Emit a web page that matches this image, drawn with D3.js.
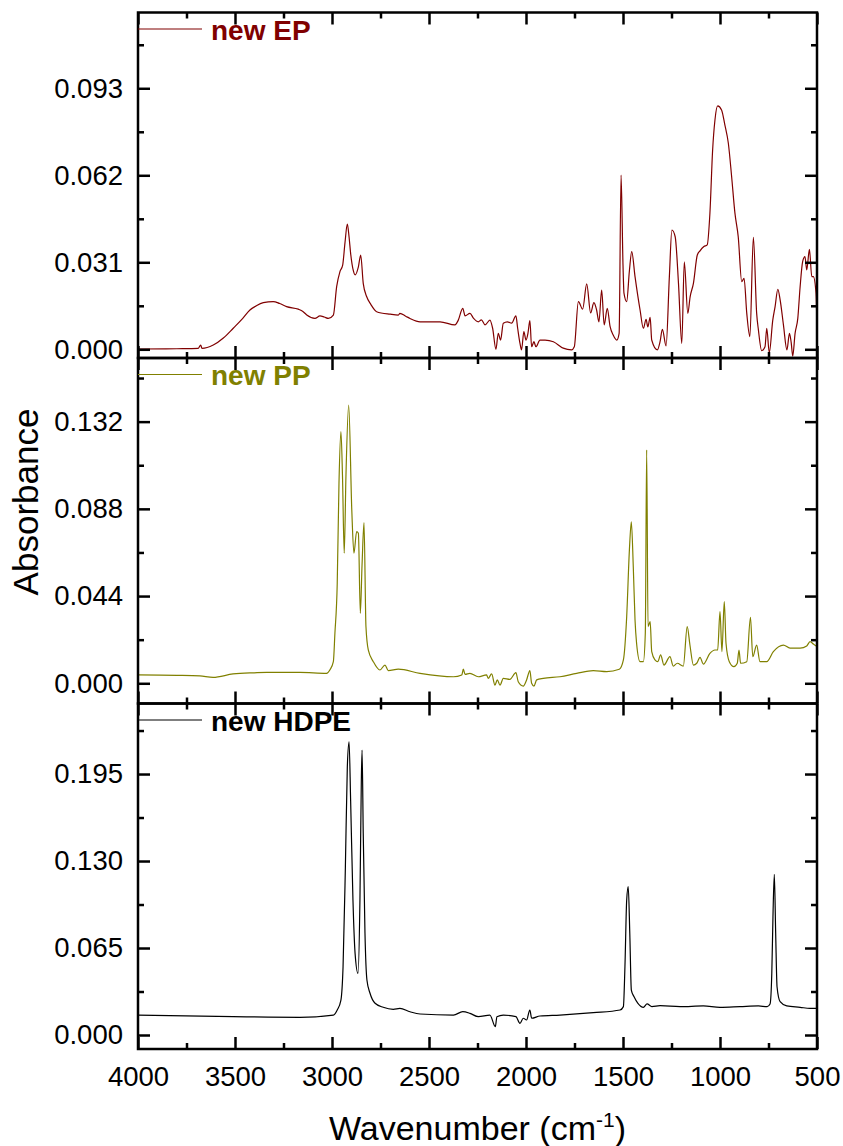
<!DOCTYPE html>
<html>
<head>
<meta charset="utf-8">
<script src="https://cdn.jsdelivr.net/npm/d3@7"></script>
<style>
  body { margin: 0; background: #fff; }
  text { font-family: "Liberation Sans", Arial, sans-serif; fill: #000; }
</style>
</head>
<body>
<div id="chart"></div>
<script>
// spectra: [wavenumber, absorbance]
var epPoints = [[4000,0.0001],[3800,0.0002],[3690,0.0003],[3677,0.0015],[3670,0.0003],[3612,0.0015],[3560,0.004],[3509,0.0075],[3460,0.011],[3423,0.014],[3390,0.0155],[3354,0.0166],[3303,0.017],[3270,0.0163],[3234,0.0152],[3174,0.0143],[3150,0.0135],[3130,0.0122],[3088,0.011],[3062,0.0119],[3040,0.0115],[3019,0.011],[2993,0.0122],[2976,0.0223],[2959,0.0277],[2945,0.030],[2933,0.038],[2921,0.0446],[2912,0.040],[2904,0.0342],[2890,0.028],[2881,0.0265],[2864,0.0294],[2852,0.0336],[2839,0.0235],[2821,0.0187],[2800,0.016],[2770,0.0134],[2700,0.0125],[2658,0.0122],[2650,0.0128],[2620,0.0118],[2598,0.011],[2546,0.0098],[2443,0.0098],[2366,0.0087],[2349,0.0104],[2326,0.0146],[2314,0.0119],[2289,0.0128],[2270,0.011],[2246,0.0098],[2230,0.0105],[2211,0.0087],[2186,0.0104],[2172,0.0075],[2155,0.000],[2143,0.0057],[2131,0.0033],[2117,0.0093],[2096,0.0098],[2074,0.0093],[2052,0.0119],[2043,0.0075],[2031,0.0021],[2023,-0.0002],[2011,0.0063],[2000,0.0033],[1990,0.0057],[1980,0.0102],[1971,0.0009],[1959,0.0027],[1949,0.0009],[1928,0.0033],[1902,0.0033],[1859,0.0027],[1808,0.0004],[1765,-0.0002],[1751,0.0009],[1730,0.017],[1708,0.0143],[1687,0.0233],[1667,0.013],[1650,0.0166],[1636,0.014],[1624,0.0098],[1610,0.0211],[1597,0.0087],[1581,0.0146],[1567,0.0083],[1550,0.005],[1532,0.0033],[1520,0.0057],[1510,0.0621],[1500,0.03],[1495,0.02],[1481,0.017],[1467,0.028],[1455,0.0348],[1438,0.0259],[1412,0.014],[1395,0.0075],[1381,0.0107],[1372,0.008],[1360,0.0114],[1352,0.0033],[1323,-0.0002],[1309,0.0027],[1297,0.0071],[1278,0.0012],[1261,0.0259],[1248,0.0425],[1231,0.0401],[1214,0.0235],[1197,0.0021],[1184,0.0312],[1166,0.0128],[1154,0.0187],[1137,0.0235],[1117,0.0336],[1103,0.0351],[1083,0.0366],[1066,0.0372],[1052,0.0485],[1038,0.071],[1026,0.0817],[1012,0.0867],[992,0.0853],[975,0.08],[957,0.0734],[940,0.0615],[923,0.0485],[906,0.0401],[888,0.0241],[876,0.0253],[862,0.0128],[846,0.0045],[828,0.0399],[811,0.0128],[802,0.0069],[785,-0.0005],[768,0.0009],[759,0.0075],[746,-0.0012],[728,0.0104],[716,0.0152],[702,0.0214],[690,0.0176],[673,0.0087],[655,-0.0002],[642,0.0057],[633,0.0024],[625,-0.0024],[613,0.0057],[599,0.011],[587,0.0223],[574,0.0312],[562,0.033],[553,0.0283],[539,0.0356],[527,0.0259],[519,0.0259],[505,0.02],[500,0.007]];

var ppPoints = [[4000,0.0042],[3800,0.004],[3681,0.0037],[3613,0.003],[3510,0.0047],[3400,0.0053],[3337,0.0055],[3165,0.0055],[3028,0.005],[3011,0.0067],[2993,0.0109],[2985,0.0252],[2973,0.0505],[2964,0.101],[2954,0.127],[2946,0.105],[2937,0.0656],[2928,0.105],[2914,0.1404],[2898,0.0874],[2887,0.0656],[2873,0.0765],[2864,0.0757],[2854,0.0353],[2845,0.06],[2835,0.081],[2825,0.0286],[2813,0.0168],[2787,0.0109],[2753,0.0067],[2727,0.0092],[2710,0.0064],[2658,0.0071],[2546,0.005],[2374,0.0033],[2331,0.0042],[2323,0.0071],[2314,0.0045],[2289,0.005],[2246,0.0033],[2203,0.0042],[2195,0.0025],[2177,0.0047],[2160,-0.0009],[2148,0.0017],[2134,-0.0009],[2117,0.0025],[2083,0.002],[2052,0.0054],[2040,0.0008],[2014,-0.0014],[1997,0.0017],[1980,0.0064],[1971,0],[1959,-0.0014],[1945,0.0017],[1911,0.0025],[1825,0.0033],[1739,0.005],[1653,0.0064],[1584,0.0059],[1519,0.0071],[1498,0.0118],[1481,0.0336],[1467,0.0673],[1457,0.0815],[1447,0.0588],[1438,0.0319],[1430,0.0202],[1412,0.0109],[1395,0.0109],[1385,0.0252],[1378,0.1177],[1371,0.0286],[1360,0.0311],[1352,0.016],[1335,0.0118],[1321,0.0109],[1306,0.0143],[1289,0.0092],[1258,0.0134],[1241,0.0087],[1220,0.0101],[1189,0.0087],[1169,0.0286],[1155,0.0193],[1137,0.0092],[1120,0.0101],[1103,0.0131],[1086,0.0097],[1052,0.0151],[1026,0.0168],[1012,0.0168],[1000,0.0361],[990,0.016],[978,0.0412],[969,0.0202],[952,0.0109],[928,0.0084],[911,0.0101],[902,0.0168],[894,0.0101],[862,0.0109],[843,0.0333],[831,0.0134],[811,0.0193],[794,0.0109],[759,0.0109],[725,0.016],[673,0.0193],[639,0.0177],[587,0.0177],[553,0.0188],[536,0.021],[519,0.0198],[500,0.0185]];

var hdpePoints = [[4000,0.0149],[3510,0.0137],[3165,0.0132],[2993,0.0149],[2973,0.0187],[2954,0.0261],[2943,0.051],[2931,0.1257],[2921,0.2004],[2912,0.219],[2904,0.1755],[2892,0.1008],[2881,0.061],[2866,0.0461],[2856,0.1008],[2849,0.188],[2845,0.2129],[2839,0.1507],[2830,0.076],[2820,0.0411],[2804,0.0312],[2778,0.0237],[2736,0.0207],[2684,0.0192],[2650,0.0199],[2598,0.0174],[2546,0.0157],[2374,0.0149],[2326,0.0174],[2289,0.0162],[2246,0.0137],[2186,0.0149],[2158,0.0062],[2150,0.0137],[2117,0.0149],[2052,0.0137],[2031,0.0087],[2014,0.0125],[1997,0.0112],[1980,0.0187],[1971,0.0125],[1928,0.0142],[1825,0.0149],[1653,0.0167],[1515,0.0187],[1498,0.0212],[1490,0.051],[1481,0.1008],[1473,0.1108],[1465,0.076],[1457,0.0336],[1443,0.0286],[1423,0.0237],[1395,0.0207],[1376,0.0232],[1351,0.0212],[1309,0.0219],[1206,0.0212],[1086,0.0217],[1000,0.0207],[897,0.0212],[802,0.0217],[757,0.0212],[742,0.0232],[733,0.0461],[727,0.0884],[720,0.12],[713,0.076],[706,0.0361],[690,0.0249],[656,0.0217],[587,0.0207],[536,0.0199],[500,0.0199]];

var xTicks = [4000, 3500, 3000, 2500, 2000, 1500, 1000, 500];
var epTicks = [0, 0.031, 0.062, 0.093];
var ppTicks = [0, 0.044, 0.088, 0.132];
var hdpeTicks = [0, 0.065, 0.130, 0.195];

var panels = [
  { name: "new EP", color: "#800000", points: epPoints, ticks: epTicks, domain: [-0.0031, 0.1200] },
  { name: "new PP", color: "#808000", points: ppPoints, ticks: ppTicks, domain: [-0.0102, 0.1641] },
  { name: "new HDPE", color: "#000000", points: hdpePoints, ticks: hdpeTicks, domain: [-0.01046, 0.2477] }
];

var svgWidth = 843, svgHeight = 1146;
var plotLeft = 138, plotRight = 817, plotTop = 12.5, panelH = 345.5;

var svg = d3.select("#chart").append("svg")
  .attr("width", svgWidth)
  .attr("height", svgHeight);

var x = d3.scaleLinear().domain([4000, 500]).range([plotLeft, plotRight]);

// minor x ticks halfway between majors
var xMinor = d3.range(3750, 500, -500);

panels.forEach(function(p, i) {
  var y0 = plotTop + i * panelH;
  var y1 = y0 + panelH;
  var y = d3.scaleLinear().domain(p.domain).range([y1, y0]);
  var step = p.ticks[1] - p.ticks[0];
  var yMinor = p.ticks.map(d => d + step / 2);

  svg.append("clipPath").attr("id", "clip" + i)
    .append("rect").attr("x", plotLeft).attr("y", y0).attr("width", plotRight - plotLeft).attr("height", panelH);

  var line = d3.line()
    .x(d => x(d[0]))
    .y(d => y(d[1]))
    .curve(d3.curveMonotoneX);
  svg.append("path")
    .datum(p.points)
    .attr("clip-path", "url(#clip" + i + ")")
    .attr("fill", "none")
    .attr("stroke", p.color)
    .attr("stroke-width", 1.2)
    .attr("stroke-linejoin", "round")
    .attr("d", line);

  // axes: major and minor ticks on all four sides, pointing inward
  function axisPair(axisFn, scale, majors, minors, transform, labels) {
    var gMin = svg.append("g").attr("transform", transform)
      .call(axisFn(scale).tickValues(minors).tickSize(-6).tickFormat(""));
    var gMaj = svg.append("g").attr("transform", transform)
      .call(axisFn(scale).tickValues(majors).tickSize(-12).tickPadding(15)
        .tickFormat(labels ? labels : ""));
    [gMin, gMaj].forEach(function(g) {
      g.select(".domain").remove();
      g.selectAll(".tick line").attr("stroke", "#000").attr("stroke-width", 2.5);
    });
    return gMaj;
  }

  var yl = axisPair(d3.axisLeft, y, p.ticks, yMinor, `translate(${plotLeft},0)`, d3.format(".3f"));
  yl.selectAll(".tick text")
    .style("font-size", "27.5px")
    .style("font-family", "'Liberation Sans', Arial, sans-serif")
    .attr("fill", "#000");
  axisPair(d3.axisRight, y, p.ticks, yMinor, `translate(${plotRight},0)`, null);
  axisPair(d3.axisTop, x, xTicks, xMinor, `translate(0,${y0})`, null);
  var xb = axisPair(d3.axisBottom, x, xTicks, xMinor, `translate(0,${y1})`,
    i === panels.length - 1 ? d3.format("d") : null);
  xb.selectAll(".tick text")
    .style("font-size", "27.5px")
    .style("font-family", "'Liberation Sans', Arial, sans-serif")
    .attr("fill", "#000")
    .attr("dy", "0.71em")
    .attr("y", 17);

  // frame
  svg.append("rect")
    .attr("x", plotLeft).attr("y", y0)
    .attr("width", plotRight - plotLeft).attr("height", panelH)
    .attr("fill", "none")
    .attr("stroke", "#000")
    .attr("stroke-width", 2.5);

  // legend
  svg.append("line")
    .attr("x1", plotLeft).attr("x2", 202)
    .attr("y1", y0 + 16.5).attr("y2", y0 + 16.5)
    .attr("stroke", p.color).attr("stroke-width", 1.2);
  svg.append("text")
    .attr("x", 211).attr("y", y0 + 27)
    .style("font-size", "28px")
    .style("font-weight", "bold")
    .style("fill", p.color)
    .text(p.name);
});

// axis titles
var xt = svg.append("text")
  .attr("x", (plotLeft + plotRight) / 2)
  .attr("y", 1140)
  .attr("text-anchor", "middle")
  .style("font-size", "34px");
xt.append("tspan").text("Wavenumber (cm");
xt.append("tspan").attr("dy", -13).style("font-size", "21px").text("-1");
xt.append("tspan").attr("dy", 13).text(")");

svg.append("text")
  .attr("transform", "translate(38,502) rotate(-90)")
  .attr("text-anchor", "middle")
  .style("font-size", "35px")
  .text("Absorbance");
</script>
</body>
</html>
